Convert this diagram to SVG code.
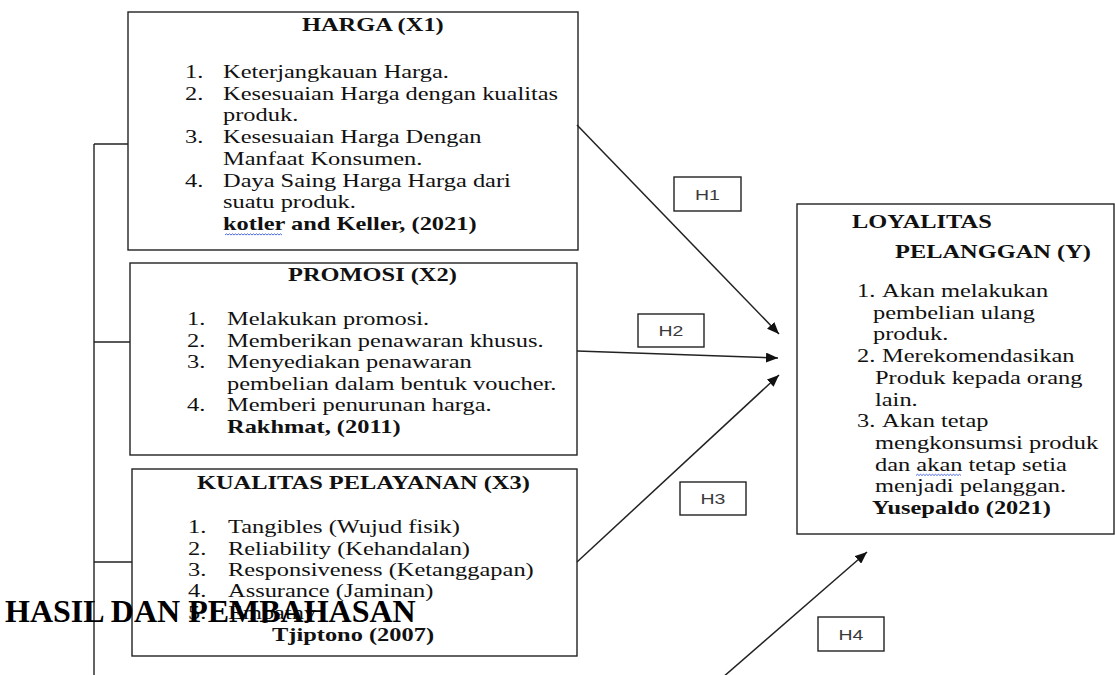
<svg xmlns="http://www.w3.org/2000/svg" width="1115" height="675" viewBox="0 0 1115 675">
<style>
.t{font-family:"Liberation Serif","Times New Roman",serif;font-size:18.5px;fill:#111}
.b{font-weight:bold}
.h{font-family:"Liberation Sans",Arial,sans-serif;font-size:15px;fill:#3a3a3a;text-anchor:middle}
.box{fill:#fff;stroke:#222;stroke-width:1.4}
.ln{stroke:#222;stroke-width:1.4;fill:none}
.ar{stroke:#222;stroke-width:1.5;fill:none;marker-end:url(#ah)}
.sq{stroke:#3b5bdb;stroke-width:0.9;fill:none}
.hd{font-family:"Liberation Serif","Times New Roman",serif;font-size:32px;font-weight:bold;fill:#000}
</style>
<defs>
<marker id="ah" viewBox="0 0 12 10" refX="12" refY="5" markerWidth="12" markerHeight="10" orient="auto" markerUnits="userSpaceOnUse"><path d="M0,0 L12,5 L0,10 z" fill="#111"/></marker>
</defs>
<rect width="1115" height="675" fill="#fff"/>

<g id="harga">
<rect class="box" x="128" y="12" width="450" height="238"/>
<text class="t b" transform="translate(302 31) scale(1.32 1)">HARGA (X1)</text>
<text class="t" transform="translate(185 78) scale(1.32 1)">1.</text>
<text class="t" transform="translate(223 78) scale(1.32 1)">Keterjangkauan Harga.</text>
<text class="t" transform="translate(185 99.7) scale(1.32 1)">2.</text>
<text class="t" transform="translate(223 99.7) scale(1.32 1)">Kesesuaian Harga dengan kualitas</text>
<text class="t" transform="translate(223 121.4) scale(1.32 1)">produk.</text>
<text class="t" transform="translate(185 143) scale(1.32 1)">3.</text>
<text class="t" transform="translate(223 143) scale(1.32 1)">Kesesuaian Harga Dengan</text>
<text class="t" transform="translate(223 164.8) scale(1.32 1)">Manfaat Konsumen.</text>
<text class="t" transform="translate(185 186.5) scale(1.32 1)">4.</text>
<text class="t" transform="translate(223 186.5) scale(1.32 1)">Daya Saing Harga Harga dari</text>
<text class="t" transform="translate(223 208.2) scale(1.32 1)">suatu produk.</text>
<text class="t b" transform="translate(223 230) scale(1.32 1)">kotler and Keller, (2021)</text>
<path class="sq" d="M225,235 l1.5,-1.2 l1.5,1.2 l1.5,-1.2 l1.5,1.2 l1.5,-1.2 l1.5,1.2 l1.5,-1.2 l1.5,1.2 l1.5,-1.2 l1.5,1.2 l1.5,-1.2 l1.5,1.2 l1.5,-1.2 l1.5,1.2 l1.5,-1.2 l1.5,1.2 l1.5,-1.2 l1.5,1.2 l1.5,-1.2 l1.5,1.2 l1.5,-1.2 l1.5,1.2 l1.5,-1.2 l1.5,1.2 l1.5,-1.2 l1.5,1.2 l1.5,-1.2 l1.5,1.2 l1.5,-1.2 l1.5,1.2 l1.5,-1.2 l1.5,1.2 l1.5,-1.2 l1.5,1.2 l1.5,-1.2 l1.5,1.2 l1.5,-1.2 l1.5,1.2"/>
</g>

<g id="promosi">
<rect class="box" x="130" y="263" width="447" height="192"/>
<text class="t b" transform="translate(288 281) scale(1.32 1)">PROMOSI (X2)</text>
<text class="t" transform="translate(187 325) scale(1.32 1)">1.</text>
<text class="t" transform="translate(227 325) scale(1.32 1)">Melakukan promosi.</text>
<text class="t" transform="translate(187 346.5) scale(1.32 1)">2.</text>
<text class="t" transform="translate(227 346.5) scale(1.32 1)">Memberikan penawaran khusus.</text>
<text class="t" transform="translate(187 368) scale(1.32 1)">3.</text>
<text class="t" transform="translate(227 368) scale(1.32 1)">Menyediakan penawaran</text>
<text class="t" transform="translate(227 389.5) scale(1.32 1)">pembelian dalam bentuk voucher.</text>
<text class="t" transform="translate(187 411) scale(1.32 1)">4.</text>
<text class="t" transform="translate(227 411) scale(1.32 1)">Memberi penurunan harga.</text>
<text class="t b" transform="translate(227 432.5) scale(1.32 1)">Rakhmat, (2011)</text>
</g>

<g id="kualitas">
<rect class="box" x="132" y="469" width="445" height="187"/>
<text class="t b" transform="translate(197 489) scale(1.32 1)">KUALITAS PELAYANAN (X3)</text>
<text class="t" transform="translate(188 533) scale(1.32 1)">1.</text>
<text class="t" transform="translate(228 533) scale(1.32 1)">Tangibles (Wujud fisik)</text>
<text class="t" transform="translate(188 554.5) scale(1.32 1)">2.</text>
<text class="t" transform="translate(228 554.5) scale(1.32 1)">Reliability (Kehandalan)</text>
<text class="t" transform="translate(188 576) scale(1.32 1)">3.</text>
<text class="t" transform="translate(228 576) scale(1.32 1)">Responsiveness (Ketanggapan)</text>
<text class="t" transform="translate(188 597) scale(1.32 1)">4.</text>
<text class="t" transform="translate(228 597) scale(1.32 1)">Assurance (Jaminan)</text>
<text class="t" transform="translate(188 618.5) scale(1.32 1)">5.</text>
<text class="t" transform="translate(228 618.5) scale(1.32 1)">Empathy</text>
<text class="t b" transform="translate(272 641) scale(1.32 1)">Tjiptono (2007)</text>
</g>

<g id="loyalitas">
<rect class="box" x="797" y="204" width="317" height="330"/>
<text class="t b" transform="translate(852 228) scale(1.32 1)">LOYALITAS</text>
<text class="t b" transform="translate(895 258) scale(1.32 1)">PELANGGAN (Y)</text>
<text class="t" transform="translate(857 297) scale(1.32 1)">1.</text>
<text class="t" transform="translate(882 297) scale(1.32 1)">Akan melakukan</text>
<text class="t" transform="translate(873 318.5) scale(1.32 1)">pembelian ulang</text>
<text class="t" transform="translate(873 340) scale(1.32 1)">produk.</text>
<text class="t" transform="translate(857 362) scale(1.32 1)">2.</text>
<text class="t" transform="translate(882 362) scale(1.32 1)">Merekomendasikan</text>
<text class="t" transform="translate(875 384) scale(1.32 1)">Produk kepada orang</text>
<text class="t" transform="translate(875 405.5) scale(1.32 1)">lain.</text>
<text class="t" transform="translate(857 427) scale(1.32 1)">3.</text>
<text class="t" transform="translate(882 427) scale(1.32 1)">Akan tetap</text>
<text class="t" transform="translate(875 449) scale(1.32 1)">mengkonsumsi produk</text>
<text class="t" transform="translate(875 470.5) scale(1.32 1)">dan akan tetap setia</text>
<text class="t" transform="translate(875 492) scale(1.32 1)">menjadi pelanggan.</text>
<text class="t b" transform="translate(872 514) scale(1.32 1)">Yusepaldo (2021)</text>
<path class="sq" d="M916,475.5 l1.5,-1.2 l1.5,1.2 l1.5,-1.2 l1.5,1.2 l1.5,-1.2 l1.5,1.2 l1.5,-1.2 l1.5,1.2 l1.5,-1.2 l1.5,1.2 l1.5,-1.2 l1.5,1.2 l1.5,-1.2 l1.5,1.2 l1.5,-1.2 l1.5,1.2 l1.5,-1.2 l1.5,1.2 l1.5,-1.2 l1.5,1.2 l1.5,-1.2 l1.5,1.2 l1.5,-1.2 l1.5,1.2 l1.5,-1.2 l1.5,1.2 l1.5,-1.2 l1.5,1.2 l1.5,-1.2 l1.5,1.2"/>
</g>

<g id="connectors">
<path class="ln" d="M94,144 L94,675"/>
<path class="ln" d="M94,144 L128,144"/>
<path class="ln" d="M94,342 L130,342"/>
<path class="ln" d="M94,562 L132,562"/>
<path class="ar" d="M577,125 L779,334"/>
<path class="ar" d="M577,351 L778,358"/>
<path class="ar" d="M577,562 L779,375"/>
<path class="ar" d="M722,678 L867,552"/>
</g>

<g id="label-h1">
<rect class="box" x="674" y="177" width="67" height="34"/>
<text class="h" transform="translate(707.5 199.5) scale(1.3 1)">H1</text>
</g>
<g id="label-h2">
<rect class="box" x="638" y="314" width="66" height="33"/>
<text class="h" transform="translate(671 336) scale(1.3 1)">H2</text>
</g>
<g id="label-h3">
<rect class="box" x="680" y="482" width="66" height="33"/>
<text class="h" transform="translate(713 504) scale(1.3 1)">H3</text>
</g>
<g id="label-h4">
<rect class="box" x="818" y="617" width="66" height="34"/>
<text class="h" transform="translate(851 639.5) scale(1.3 1)">H4</text>
</g>

<g id="heading">
<text class="hd" x="5" y="622">HASIL DAN PEMBAHASAN</text>
</g>
</svg>
